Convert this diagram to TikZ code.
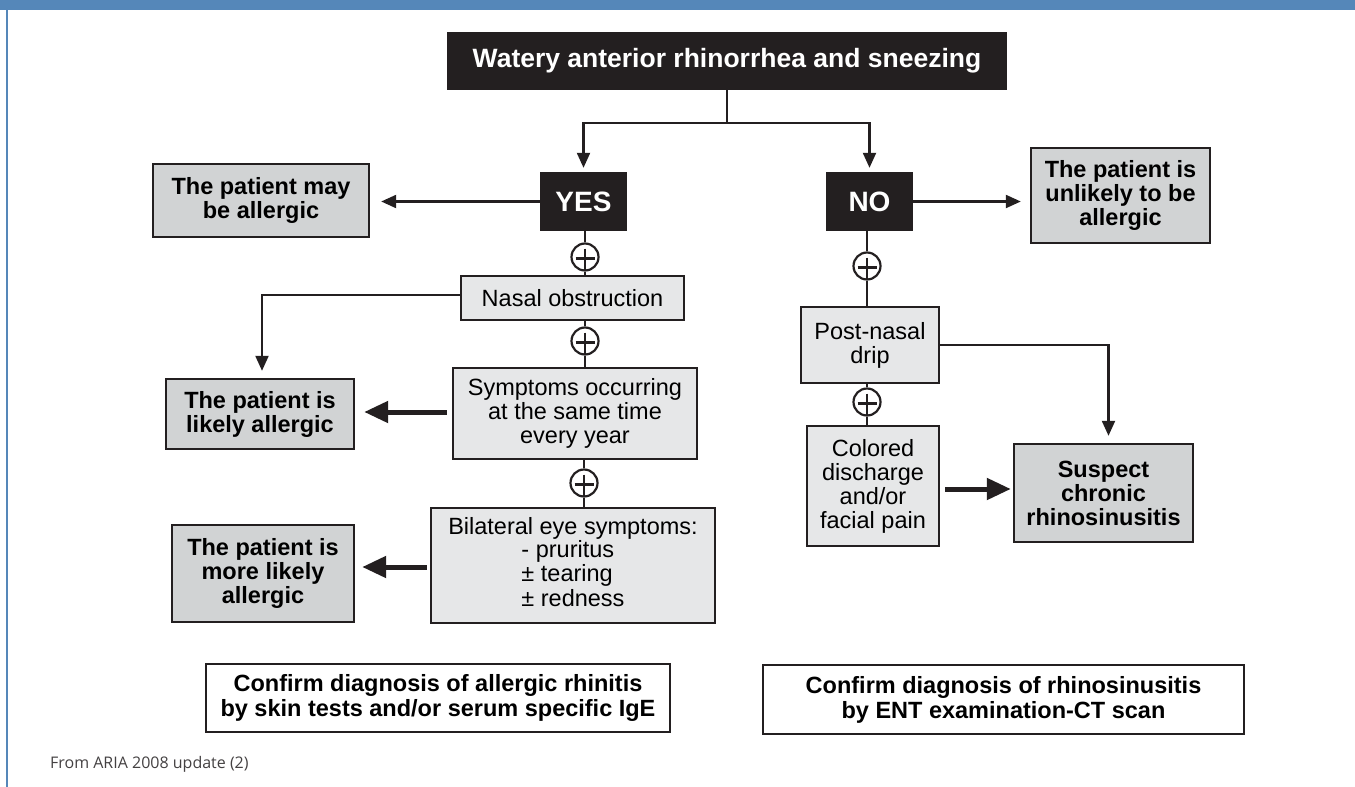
\documentclass[tikz,border=0pt]{standalone}
\usepackage{fontspec}
\setmainfont{Liberation Sans}
\newfontfamily\footfont{Open Sans}
\usetikzlibrary{arrows.meta}
\definecolor{ink}{HTML}{231F20}
\definecolor{resgray}{HTML}{D1D3D4}
\definecolor{condgray}{HTML}{E6E7E8}
\definecolor{hdrblue}{HTML}{5587B9}
\tikzset{
  blk/.style={fill=ink, text=white, inner sep=0pt, align=center},
  resbox/.style={fill=resgray, draw=ink, line width=2.4pt, inner sep=0pt, align=center,
    font=\fontsize{23.5}{24}\selectfont\bfseries},
  condbox/.style={fill=condgray, draw=ink, line width=2.4pt, inner sep=0pt, align=center,
    font=\fontsize{23.5}{24}\selectfont},
  confbox/.style={fill=white, draw=ink, line width=2.4pt, inner sep=0pt, align=center,
    font=\fontsize{23.5}{25}\selectfont\bfseries},
  ln/.style={draw=ink, line width=2.2pt},
  arr/.style={draw=ink, line width=2.2pt, -{Triangle[length=15pt,width=13pt]}},
  tharr/.style={draw=ink, line width=5pt, -{Triangle[length=24pt,width=21pt]}},
  plusc/.style={circle, draw=ink, line width=2.2pt, minimum size=27pt, inner sep=0pt,
    path picture={
      \draw[ink, line width=2.2pt] ([xshift=-9.5pt,yshift=-1.5pt]path picture bounding box.center) -- ([xshift=9.5pt,yshift=-1.5pt]path picture bounding box.center);
      \draw[ink, line width=2.2pt] ([yshift=8.5pt]path picture bounding box.center) -- (path picture bounding box.south);
    }},
}
\begin{document}
\begin{tikzpicture}[x=1pt,y=-1pt]
\useasboundingbox (0,0) rectangle (1355,787);
% frame
\fill[hdrblue] (0,0) rectangle (1355,10);
\draw[hdrblue, line width=2.5pt] (7,10) -- (7,787);

% top
\node[blk, minimum width=560pt, minimum height=58pt, font=\fontsize{26.5}{30}\selectfont\bfseries] (top) at (727,61) {Watery anterior rhinorrhea and sneezing};
\node[blk, minimum width=87pt, minimum height=59pt, font=\fontsize{28}{30}\selectfont\bfseries] (yes) at (583.5,201.5) {YES};
\node[blk, minimum width=87pt, minimum height=59pt, font=\fontsize{28}{30}\selectfont\bfseries] (no) at (869.5,201.5) {NO};

% result boxes
\node[resbox, minimum width=216pt, minimum height=73pt] (may) at (261,200.5) {The patient may\\be allergic};
\node[resbox, minimum width=179pt, minimum height=95pt] (unlikely) at (1120.5,195.5) {The patient is\\unlikely to be\\allergic};
\node[resbox, minimum width=188pt, minimum height=70pt] (likely) at (260,414) {The patient is\\likely allergic};
\node[resbox, minimum width=182pt, minimum height=97pt] (morelikely) at (263,573.5) {The patient is\\more likely\\allergic};
\node[resbox, minimum width=179pt, minimum height=98pt] (suspect) at (1103.5,493) {Suspect\\chronic\\rhinosinusitis};

% condition boxes
\node[condbox, minimum width=223pt, minimum height=44pt] (nasal) at (572.5,298) {Nasal obstruction};
\node[condbox, minimum width=244pt, minimum height=91pt] (symptoms) at (575,413.5) {Symptoms occurring\\at the same time\\every year};
\node[condbox, minimum width=284pt, minimum height=115pt] (bilateral) at (573,565.5) {Bilateral eye symptoms:\\\begin{tabular}{@{}l@{}}- pruritus\\± tearing\\± redness\end{tabular}};
\node[condbox, minimum width=138pt, minimum height=76pt] (postnasal) at (870,345) {Post-nasal\\drip};
\node[condbox, minimum width=132pt, minimum height=120pt] (colored) at (873,486) {Colored\\discharge\\and/or\\facial pain};

% confirm boxes
\node[confbox, minimum width=464pt, minimum height=68pt] (conf1) at (438,698) {Confirm diagnosis of allergic rhinitis\\by skin tests and/or serum specific IgE};
\node[confbox, minimum width=481pt, minimum height=69pt] (conf2) at (1003.5,699.5) {Confirm diagnosis of rhinosinusitis\\by ENT examination-CT scan};

% plus circles
\node[plusc] (c1) at (585,257) {};
\node[plusc] (c2) at (585,341) {};
\node[plusc] (c3) at (584,483) {};
\node[plusc] (c4) at (867,266) {};
\node[plusc] (c5) at (867,402) {};

% footer
\node[anchor=base west, inner sep=0pt, text=ink!85, font=\footfont\fontsize{16}{18}\selectfont] (foot) at (50,768) {From ARIA 2008 update (2)};

% connectors
\coordinate (split) at (727,123);
\draw[ln] (top.south) -- (split);
\draw[arr, shorten >=4pt] (split) -| (yes.north);
\draw[arr, shorten >=4pt] (split) -| (no.north);
\draw[arr, shorten >=11pt] (yes.west) -- (yes.west -| may.east);
\draw[arr, shorten >=9pt] (no.east) -- (no.east -| unlikely.west);

\draw[ln] (yes.south -| c1) -- (c1.north);
\draw[ln] (c1.south) -- (nasal.north -| c1);
\draw[ln] (nasal.south -| c2) -- (c2.north);
\draw[ln] (c2.south) -- (symptoms.north -| c2);
\draw[ln] (symptoms.south -| c3) -- (c3.north);
\draw[ln] (c3.south) -- (bilateral.north -| c3);

\draw[ln] (no.south -| c4) -- (c4.north);
\draw[ln] (c4.south) -- (postnasal.north -| c4);
\draw[ln] (postnasal.south -| c5) -- (c5.north);
\draw[ln] (c5.south) -- (colored.north -| c5);

\draw[arr, shorten >=7pt] ([yshift=3pt]nasal.west) -| ([xshift=2pt]likely.north);
\draw[arr, shorten >=7pt] (postnasal.east) -| ([xshift=5pt]suspect.north);

\draw[tharr, shorten <=5pt, shorten >=9pt] ([yshift=1.5pt]symptoms.west) -- ([yshift=1.5pt]symptoms.west -| likely.east);
\draw[tharr, shorten <=3pt, shorten >=7pt] ([yshift=-1.5pt]bilateral.west) -- ([yshift=-1.5pt]bilateral.west -| morelikely.east);
\draw[tharr, shorten <=5pt, shorten >=2pt] ([yshift=-3pt]colored.east) -- ([yshift=-3pt]colored.east -| suspect.west);
\end{tikzpicture}
\end{document}
